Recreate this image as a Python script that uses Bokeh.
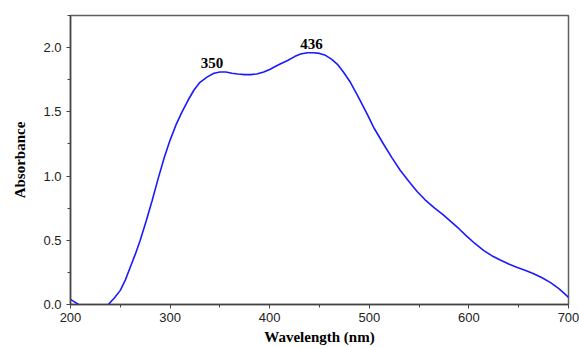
from bokeh.plotting import figure
from bokeh.models import Range1d, FixedTicker, Label, CustomJSTickFormatter
from bokeh.embed import file_html
from bokeh.resources import INLINE
import numpy as np

wavelength = [200, 204, 208, np.nan, 238, 244, 250, 255, 260, 265, 270, 276, 282, 288, 294,
              300, 306, 312, 318, 324, 330, 337, 344, 350, 356, 362, 368, 375, 381, 387,
              394, 400, 406, 411, 418, 425, 431, 438, 444, 450, 456, 462, 468, 474, 481,
              488, 494, 498, 505, 515, 523, 531, 540, 548, 556, 565, 574, 582, 590, 598,
              606, 615, 623, 632, 640, 648, 657, 665, 673, 682, 690, 696, 700]
absorbance = [0.04, 0.02, 0.0, np.nan, 0.0, 0.05, 0.11, 0.19, 0.29, 0.39, 0.50, 0.65, 0.81, 0.98, 1.14,
              1.28, 1.40, 1.50, 1.59, 1.67, 1.73, 1.77, 1.80, 1.81, 1.81, 1.80, 1.795, 1.79, 1.79, 1.795,
              1.81, 1.83, 1.855, 1.875, 1.90, 1.93, 1.95, 1.96, 1.96, 1.955, 1.94, 1.91, 1.87, 1.81, 1.73,
              1.63, 1.54, 1.48, 1.37, 1.24, 1.14, 1.045, 0.955, 0.88, 0.815, 0.755, 0.70, 0.645, 0.59, 0.53,
              0.475, 0.42, 0.38, 0.345, 0.315, 0.29, 0.265, 0.24, 0.21, 0.17, 0.125, 0.085, 0.055]

peak_x = [350, 436]
peak_y = [1.81, 1.96]
peak_labels = ["350", "436"]

x_ticks = [200, 300, 400, 500, 600, 700]
y_ticks = [0.0, 0.5, 1.0, 1.5, 2.0]

p = figure(width=579, height=347, output_backend="svg", toolbar_location=None,
           x_range=Range1d(200, 700), y_range=Range1d(0, 2.25),
           min_border_left=70, min_border_right=11, min_border_top=15, min_border_bottom=43)
p.background_fill_color = "white"
p.border_fill_color = "white"
p.grid.visible = False
p.outline_line_color = "#606060"
p.outline_line_width = 1.5

p.line(wavelength, absorbance, line_color="#1a1aff", line_width=1.6)

offsets = [-8, 6]
for xv, yv, t, dx in zip(peak_x, peak_y, peak_labels, offsets):
    p.add_layout(Label(x=xv, y=yv, text=t, x_offset=dx, y_offset=4,
                       text_align="center", text_baseline="bottom",
                       text_font="Liberation Serif", text_font_style="bold",
                       text_font_size="15px", text_color="black"))

p.xaxis.ticker = FixedTicker(ticks=x_ticks, minor_ticks=[250, 350, 450, 550, 650])
p.yaxis.ticker = FixedTicker(ticks=y_ticks, minor_ticks=[0.25, 0.75, 1.25, 1.75, 2.25])
p.yaxis.formatter = CustomJSTickFormatter(code="return tick.toFixed(1);")

for ax in (p.xaxis, p.yaxis):
    ax.axis_line_color = "#444444"
    ax.axis_line_width = 1.5
    ax.major_tick_line_color = "#444444"
    ax.minor_tick_line_color = "#444444"
    ax.major_tick_out = 4
    ax.major_tick_in = 0
    ax.minor_tick_out = 3
    ax.minor_tick_in = 0
    ax.major_label_text_font = "Liberation Sans"
    ax.major_label_text_font_size = "13px"
    ax.major_label_text_color = "#222222"
    ax.axis_label_text_font = "Liberation Serif"
    ax.axis_label_text_font_style = "bold"
    ax.axis_label_text_font_size = "15px"
    ax.axis_label_text_color = "black"

p.xaxis.axis_label = "Wavelength (nm)"
p.xaxis.major_label_standoff = 4
p.xaxis.axis_label_standoff = 4
p.yaxis.axis_label = "Absorbance"
p.yaxis.major_label_standoff = 5
p.yaxis.axis_label_standoff = 12

open("out.html", "w").write(file_html(p, INLINE))
